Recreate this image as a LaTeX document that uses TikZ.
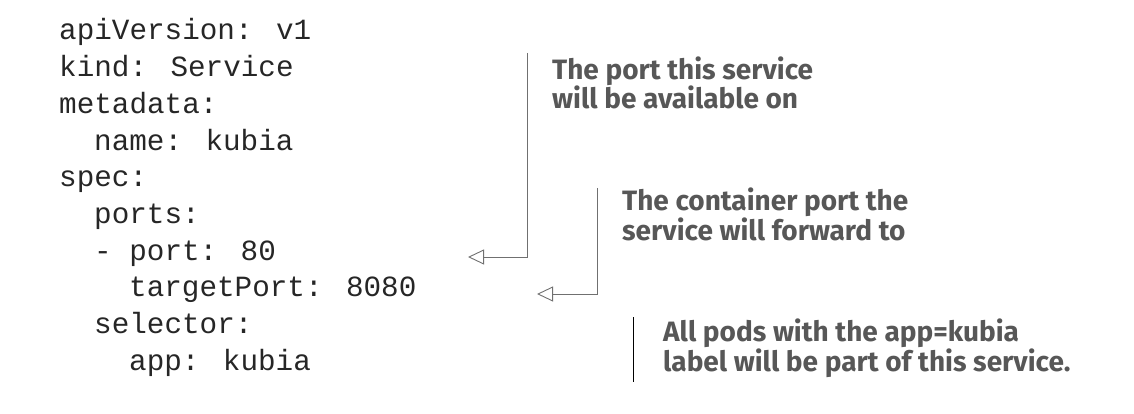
\documentclass[tikz,border=0pt]{standalone}
\usepackage{fontspec}
\usetikzlibrary{arrows.meta}
\newfontfamily\codefont{Liberation Mono}
\newfontfamily\notefont{Fira Sans}
\definecolor{notegray}{HTML}{575757}
\definecolor{linegray}{HTML}{707070}

\begin{document}
\begin{tikzpicture}[x=1pt, y=-1pt,
    codeline/.style={anchor=base west, inner sep=0pt,
	font=\codefont\fontsize{29.3}{36.7}\selectfont, text=black!85},
    note/.style={anchor=base west, inner sep=0pt, align=left,
	font=\notefont\bfseries\fontsize{28}{28.5}\selectfont, text=notegray},
    pointer/.style={draw=linegray, line width=0.9pt,
	-{Triangle[open, length=16pt, width=15pt, line width=0.9pt]}}]
    \useasboundingbox (0, 0) rectangle (1134, 414);
    % the yaml file
    \node [codeline] (apiver) at (59, 40) {apiVersion: v1};
    \node [codeline] (kind) at (59, 76.7) {kind: Service};
    \node [codeline] (meta) at (59, 113.4) {metadata:};
    \node [codeline] (name) at (94, 150.1) {name: kubia};
    \node [codeline] (spec) at (59, 186.8) {spec:};
    \node [codeline] (ports) at (94, 223.5) {ports:};
    \node [codeline] (port) at (94, 260.2) {- port: 80};
    \node [codeline] (target) at (129, 296.9) {targetPort: 8080};
    \node [codeline] (selector) at (94, 333.6) {selector:};
    \node [codeline] (app) at (129, 370.3) {app: kubia};
    % the notes (base is the second line)
    \node [note] (portnote) at (552, 109) {The port this service\\will be available on};
    \node [note] (targetnote) at (622, 240) {The container port the\\service will forward to};
    \node [note] (appnote) at (663, 371) {All pods with the app=kubia\\label will be part of this service.};
    % where the pointers start and end
    \coordinate (portfrom) at (527, 53);
    \coordinate (portto) at (468, 257);
    \coordinate (targetfrom) at (597, 188);
    \coordinate (targetto) at (537, 294);
    \draw [pointer] (portfrom) |- (portto);
    \draw [pointer] (targetfrom) |- (targetto);
    \draw [line width=0.9pt] (633, 317) -- (633, 382);
\end{tikzpicture}
\end{document}
